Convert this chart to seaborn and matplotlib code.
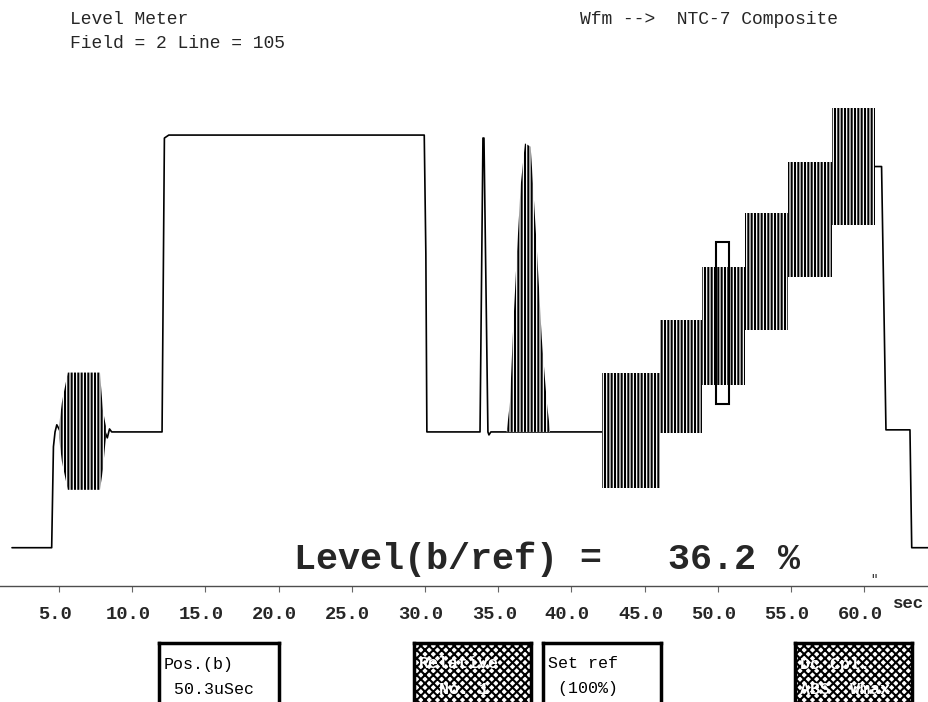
import matplotlib
matplotlib.use("Agg")
import matplotlib.pyplot as plt
import seaborn as sns
from matplotlib.patches import Rectangle
from matplotlib.transforms import ScaledTranslation

# luminance trace, time in uSec, level in IRE
trace_t = [1.79, 4.50, 4.62, 4.73, 4.85, 5.00, 5.10, 8.14, 8.30, 8.45, 8.60,
           12.04, 12.20, 12.50, 29.95, 30.06, 30.13, 33.76, 33.96, 34.03, 34.30,
           34.37, 34.50, 35.58, 38.54, 42.07, 46.05, 46.05, 48.90, 48.90, 51.86,
           51.86, 54.81, 54.81, 57.78, 57.78, 61.19, 61.49, 63.13, 63.25, 64.43]
trace_ire = [-39, -39, -5, 0, 2.4, 1, 0, 0, -2, 1, 0,
             0, 99, 100, 100, 60, 0, 0, 99, 99, 0,
             -1, 0, 0, 0, 0, 0, 18.7, 18.7, 35.7, 35.7,
             54, 54, 71.6, 71.6, 89.4, 89.4, 0.7, 0.7, -39, -39]

# colour burst envelope
burst_t = [5.0, 5.2, 5.6, 7.8, 8.0, 8.2]
burst_top = [2, 10, 20, 20, 7.4, 2]
burst_bot = [-2, -10, -19.5, -19.5, -12.8, -2]

# modulated 12.5T pulse envelope
pulse_t = [35.58, 35.81, 35.99, 36.26, 36.54, 36.83, 37.22, 37.40, 37.68, 37.98, 38.32, 38.54]
pulse_top = [0.1, 10.2, 31.5, 58.5, 83.2, 97.2, 96.1, 82.0, 58.5, 31.5, 10.2, 0.7]

# modulated staircase, one packet per step
step_edges = [42.07, 46.05, 48.90, 51.86, 54.81, 57.78, 60.74]
step_top = [19.9, 37.7, 55.7, 73.6, 91.0, 109.0]
step_bot = [-18.9, -0.4, 15.8, 34.3, 52.3, 69.7]

tick_us = [5, 10, 15, 20, 25, 30, 35, 40, 45, 50, 55, 60]
cursor_pos = 50.3
cursor_lo, cursor_hi = 9.4, 64.0
level_pct = 36.2

sns.set_theme(style="white")
plt.rcParams["font.family"] = ["Liberation Mono", "DejaVu Sans Mono"]
plt.rcParams["hatch.linewidth"] = 1.5
plt.rcParams["hatch.color"] = "black"

W, H = 929, 702
fig = plt.figure(figsize=(W / 100, H / 100), dpi=100)
ax = fig.add_axes([0, 1 - 586 / H, 1, 586 / H])

sns.lineplot(x=trace_t, y=trace_ire, ax=ax, color="black", lw=1.2,
             estimator=None, sort=False)

packet = dict(facecolor="white", edgecolor="black", hatch="|||||", lw=0, zorder=3)
ax.fill_between(burst_t, burst_bot, burst_top, **packet)
ax.fill_between(pulse_t, 0, pulse_top, **packet)
for i in range(len(step_top)):
    ax.fill_between([step_edges[i], step_edges[i + 1]], step_bot[i], step_top[i], **packet)

ax.add_patch(Rectangle((cursor_pos - 0.45, cursor_lo), 0.9, cursor_hi - cursor_lo,
                       fill=False, ec="black", lw=1.5, zorder=4))

ax.set_xlim(0.97, 64.43)
ax.set_ylim(-51.9, 145.5)
ax.set_yticks([])
ax.set_xticks(tick_us)
ax.set_xticklabels([f"{v:.1f}" for v in tick_us], fontsize=13.5, fontweight="bold")
ax.tick_params(axis="x", bottom=True, length=4.5, width=0.8, color="0.4",
               direction="out", pad=10)
for lab in ax.get_xticklabels():
    lab.set_transform(lab.get_transform() + ScaledTranslation(-4 / 100, 0, fig.dpi_scale_trans))
ax.set_xlabel("")
ax.set_ylabel("")
for side in ["top", "left", "right"]:
    ax.spines[side].set_visible(False)
ax.spines["bottom"].set_linestyle((0, (2, 1)))
ax.spines["bottom"].set_color("0.3")
ax.spines["bottom"].set_linewidth(1.0)
ax.set_facecolor("white")

ax.text(294 / W, 1 - 569 / 586, f"Level(b/ref) =   {level_pct} %",
        transform=ax.transAxes, fontsize=26.5, fontweight="bold", va="baseline", zorder=5)

fig.text(70 / W, 1 - 20 / H, "Level Meter", fontsize=13, va="center")
fig.text(70 / W, 1 - 43 / H, "Field = 2 Line = 105", fontsize=13, va="center")
fig.text(580 / W, 1 - 20 / H, "Wfm -->  NTC-7 Composite", fontsize=13, va="center")
fig.text(874 / W, 1 - 580 / H, '"', fontsize=9, va="center", ha="center")
fig.text(893 / W, 1 - 603 / H, "sec", fontsize=12.5, fontweight="bold", va="center")

buttons = [(159, 279, ["Pos.(b)", f" {cursor_pos}uSec"], False),
           (414, 531, ["Relative", "  No. 1"], True),
           (543, 661, ["Set ref", " (100%)"], False),
           (795, 912, ["Dc Cpl.", "ABS  Wmax"], True)]
for left, right, lines, shaded in buttons:
    bax = fig.add_axes([left / W, -0.05, (right - left) / W, 0.05 + (H - 643) / H])
    bax.set_xticks([])
    bax.set_yticks([])
    bax.set_facecolor("white")
    for s in bax.spines.values():
        s.set_linewidth(2.5)
        s.set_color("black")
    colour = "black"
    if shaded:
        bax.add_patch(Rectangle((0, 0), 1, 1, transform=bax.transAxes,
                                facecolor="white", edgecolor="black", hatch="xxxx", lw=0))
        colour = "white"
    for k, line in enumerate(lines):
        fig.text((left + 5) / W, 1 - (664 + 25 * k) / H, line, fontsize=12,
                 va="center", color=colour, fontweight="bold" if shaded else "normal")

fig.savefig("out.png", dpi=100, facecolor="white")
